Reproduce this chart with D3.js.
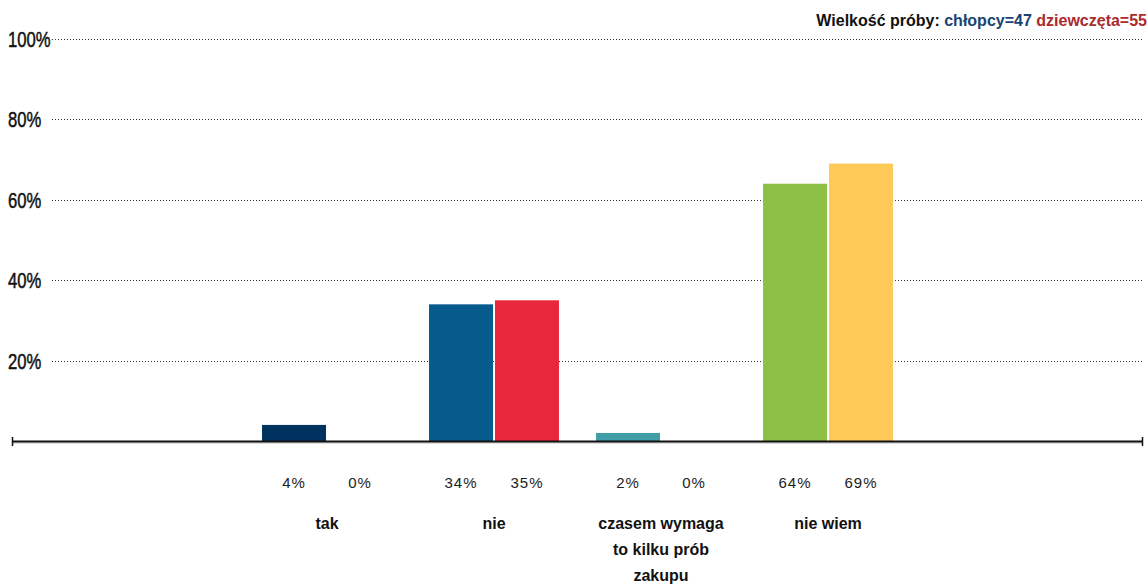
<!DOCTYPE html>
<html>
<head>
<meta charset="utf-8">
<script src="https://cdn.jsdelivr.net/npm/d3@7"></script>
<style>
  html, body { margin: 0; padding: 0; background: #fff; }
  svg { display: block; }
</style>
</head>
<body>
<svg id="chart" width="1148" height="585"></svg>
<script>
// ---- data ----
const categories = ["tak", "nie", "czasem wymaga to kilku prób zakupu", "nie wiem"];
const categoryLines = [["tak"], ["nie"], ["czasem wymaga", "to kilku prób", "zakupu"], ["nie wiem"]];
const series = ["chłopcy", "dziewczęta"];
const boys = [4, 34, 2, 64];
const girls = [0, 35, 0, 69];
const boysColors = ["#00325F", "#065A8C", "#419DA6", "#8DC044"];
const girlsColors = ["#0E6FA8", "#E8283A", "#6DBBC2", "#FEC957"];
const yTicks = [20, 40, 60, 80, 100];
const sampleLabel = "Wielkość próby: ";
const sampleBoys = "chłopcy=47";
const sampleGirls = "dziewczęta=55";

// ---- layout ----
const svg = d3.select("#chart");
const baseY = 441, topY = 39;
const y = d3.scaleLinear().domain([0, 100]).range([baseY, topY]);
const x = d3.scaleBand().domain(categories).range([243.5, 911.5]).paddingInner(0.222).paddingOuter(0.111);
const xs = d3.scaleBand().domain(series).range([0, x.bandwidth()]).paddingInner(0.03);

// gridlines
const grid = svg.append("g");
grid.selectAll("line").data(yTicks).join("line")
  .attr("x1", 52).attr("x2", 1143)
  .attr("y1", d => Math.round(y(d)) + 0.5).attr("y2", d => Math.round(y(d)) + 0.5)
  .attr("stroke", "#333").attr("stroke-width", 1).attr("stroke-dasharray", "1,2");

// y labels
grid.selectAll("text").data(yTicks).join("text")
  .attr("transform", d => `translate(8,${y(d) + 8}) scale(0.74,1)`)
  .attr("font-family", "Liberation Sans, Arial, sans-serif")
  .attr("font-size", 22.5)
  .attr("fill", "#111")
  .attr("stroke", "#111").attr("stroke-width", 0.5)
  .text(d => d + "%");

// bars
const groups = svg.append("g").selectAll("g").data(categories).join("g")
  .attr("transform", d => `translate(${x(d)},0)`);
groups.each(function(c, i) {
  const vals = [boys[i], girls[i]];
  const cols = [boysColors[i], girlsColors[i]];
  d3.select(this).selectAll("rect").data(series).join("rect")
    .attr("x", s => xs(s))
    .attr("width", xs.bandwidth())
    .attr("y", (s, j) => y(vals[j]))
    .attr("height", (s, j) => baseY - y(vals[j]))
    .attr("fill", (s, j) => cols[j]);
  d3.select(this).selectAll("text.val").data(series).join("text")
    .attr("class", "val")
    .attr("x", s => xs(s) + xs.bandwidth() / 2)
    .attr("y", 488)
    .attr("text-anchor", "middle")
    .attr("font-family", "Liberation Sans, Arial, sans-serif")
    .attr("font-size", 15)
    .attr("letter-spacing", 1)
    .attr("fill", "#222")
    .text((s, j) => vals[j] + "%");
  const t = d3.select(this).append("text")
    .attr("text-anchor", "middle")
    .attr("font-family", "Liberation Sans, Arial, sans-serif")
    .attr("font-size", 16)
    .attr("font-weight", "bold")
    .attr("fill", "#111");
  t.selectAll("tspan").data(categoryLines[i]).join("tspan")
    .attr("x", x.bandwidth() / 2)
    .attr("y", (d, k) => 529 + k * 26)
    .text(d => d);
});

// x axis line
const ax = svg.append("g");
ax.append("line").attr("x1", 12).attr("x2", 1143).attr("y1", 443).attr("y2", 443)
  .attr("stroke", "#bbb").attr("stroke-width", 1);
ax.append("line").attr("x1", 12).attr("x2", 1143).attr("y1", 441.5).attr("y2", 441.5)
  .attr("stroke", "#111").attr("stroke-width", 2);
[12.5, 1142.5].forEach(px => {
  ax.append("line").attr("x1", px).attr("x2", px).attr("y1", 437).attr("y2", 446)
    .attr("stroke", "#111").attr("stroke-width", 1.5);
});

// sample size legend
const leg = svg.append("text")
  .attr("x", 1147).attr("y", 26)
  .attr("text-anchor", "end")
  .attr("font-family", "Liberation Sans, Arial, sans-serif")
  .attr("font-size", 16)
  .attr("font-weight", "bold");
leg.append("tspan").attr("fill", "#111").text(sampleLabel);
leg.append("tspan").attr("fill", "#1A4470").text(sampleBoys + " ");
leg.append("tspan").attr("fill", "#AA2A2E").text(sampleGirls);
</script>
</body>
</html>
